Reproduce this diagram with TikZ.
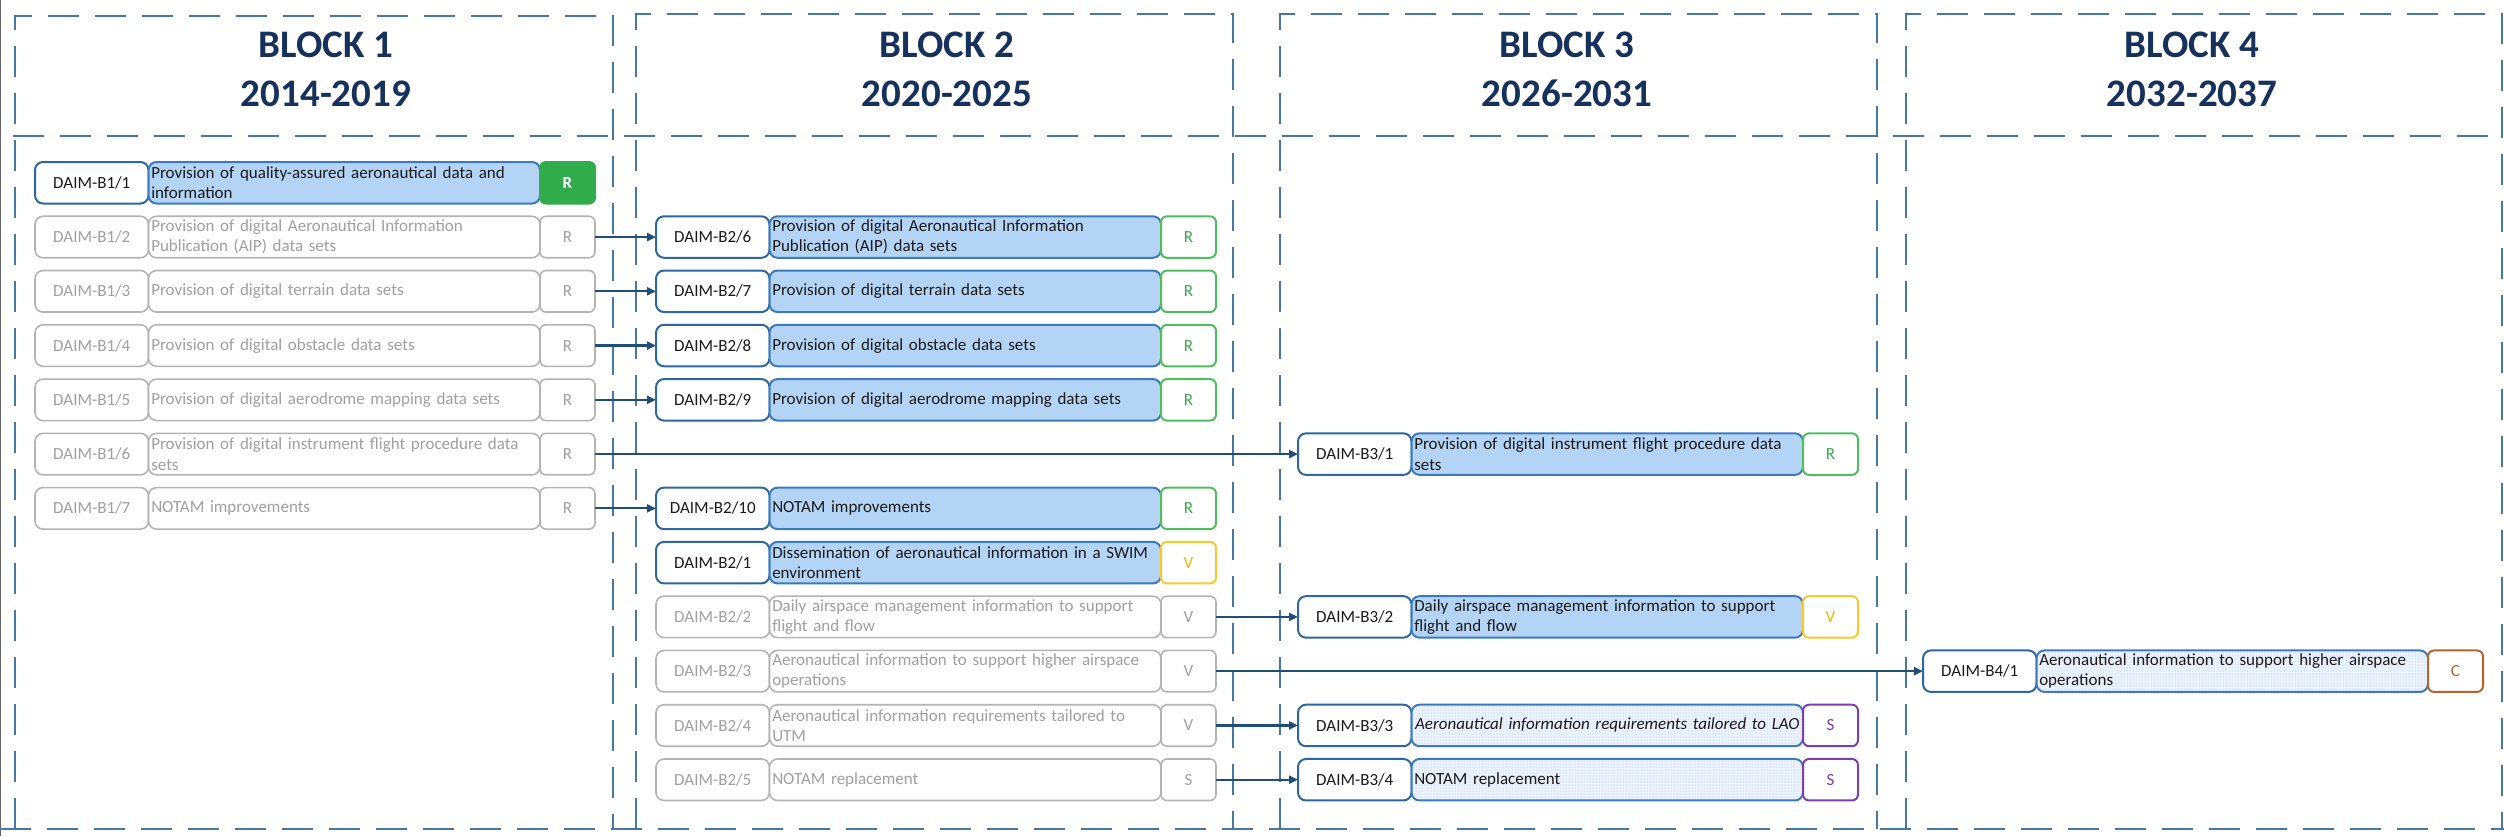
\documentclass[tikz,border=0pt]{standalone}
\usepackage{fontspec}
\setmainfont{Carlito}
\usetikzlibrary{arrows.meta,patterns}
\definecolor{dashblue}{RGB}{70,120,165}
\definecolor{arrblue}{RGB}{31,78,121}
\definecolor{idblue}{RGB}{46,103,160}
\definecolor{descblue}{RGB}{60,122,190}
\definecolor{descfill}{RGB}{180,212,246}
\definecolor{dotbg}{RGB}{236,243,252}
\definecolor{dotfg}{RGB}{150,188,230}
\definecolor{grayb}{RGB}{180,180,180}
\definecolor{grayt}{RGB}{160,160,160}
\definecolor{grn}{RGB}{80,190,95}
\definecolor{grnt}{RGB}{56,170,76}
\definecolor{grnfill}{RGB}{48,172,76}
\definecolor{yel}{RGB}{250,200,45}
\definecolor{yelt}{RGB}{240,185,0}
\definecolor{pur}{RGB}{125,62,170}
\definecolor{brn}{RGB}{180,100,45}
\definecolor{navy}{RGB}{22,50,92}
\definecolor{txt}{RGB}{26,26,26}
\tikzset{
  colline/.style={draw=dashblue, line width=2.4pt, dash pattern=on 31pt off 16pt},
  titletxt/.style={text=navy, font=\fontsize{39}{49}\selectfont\bfseries, inner sep=0pt, anchor=base},
  boxbase/.style={font=\fontsize{17}{20.5}\selectfont, inner sep=0pt, outer sep=0pt,
    minimum height=41.5pt, rounded corners=8pt, line width=2pt},
  idact/.style={boxbase, draw=idblue, fill=white, text=txt, minimum width=113.5pt},
  iddot/.style={idact},
  idina/.style={boxbase, draw=grayb, fill=white, text=grayt, minimum width=113.5pt, line width=1.6pt},
  descact/.style={boxbase, draw=descblue, fill=descfill, text=txt, text width=386pt,
    inner xsep=2.75pt, align=left},
  descdot/.style={boxbase, draw=descblue, text=txt, text width=386pt, inner xsep=2.75pt,
    align=left, preaction={fill=dotbg}, pattern=dots, pattern color=dotfg},
  descina/.style={boxbase, draw=grayb, fill=white, text=grayt, text width=386pt,
    inner xsep=2.75pt, align=left, line width=1.6pt},
  stbase/.style={boxbase, minimum width=55pt, rounded corners=6pt, fill=white},
  stR/.style={stbase, draw=grn, text=grnt},
  stRfill/.style={stbase, draw=grnfill, fill=grnfill, text=white,
    font=\fontsize{17}{20.5}\selectfont\bfseries},
  stV/.style={stbase, draw=yel, text=yelt},
  stS/.style={stbase, draw=pur, text=pur},
  stC/.style={stbase, draw=brn, text=brn},
  stina/.style={stbase, draw=grayb, text=grayt, line width=1.6pt},
  arr/.style={draw=arrblue, line width=2.2pt, -{Triangle[length=9pt,width=8pt]}},
}
% #1 name, #2 left x, #3 row, #4 kind, #5 id, #6 description, #7 status style, #8 status text
\newcommand\daim[8]{%
  \node[id#4, anchor=north west] (#1id) at (#2, {162+54.27*#3}) {#5};
  \node[desc#4, anchor=west] (#1d) at (#1id.east) {#6};
  \node[#7, anchor=west] (#1s) at (#1d.east) {#8};
}
\begin{document}
\begin{tikzpicture}[x=1pt, y=-1pt]
\useasboundingbox (0,0) rectangle (2504,836);
\fill[white] (0,0) rectangle (2504,836);
\draw[draw=gray!80!black, line width=1.2pt] (0.8,0) -- (0.8,836);

% column frames
\draw[colline] (15,829) -- (15,16) -- (613,16) -- (613,829);
\draw[colline] (636,829) -- (636,14) -- (1233,14) -- (1233,829);
\draw[colline] (1280,829) -- (1280,14) -- (1877,14) -- (1877,829);
\draw[colline] (1906,829) -- (1906,14) -- (2502,14) -- (2502,829);
\draw[colline] (13,136) -- (2504,136);
\draw[colline] (0,829) -- (2504,829);

% titles
\node[titletxt] (t1a) at (326,57) {BLOCK 1};
\node[titletxt] (t1b) at (326,106) {2014-2019};
\node[titletxt] (t2a) at (947,57) {BLOCK 2};
\node[titletxt] (t2b) at (947,106) {2020-2025};
\node[titletxt] (t3a) at (1567,57) {BLOCK 3};
\node[titletxt] (t3b) at (1567,106) {2026-2031};
\node[titletxt] (t4a) at (2192,57) {BLOCK 4};
\node[titletxt] (t4b) at (2192,106) {2032-2037};

% Block 1
\daim{bA}{35}{0}{act}{DAIM-B1/1}{Provision of quality-assured aeronautical data and\\information}{stRfill}{R}
\daim{bB}{35}{1}{ina}{DAIM-B1/2}{Provision of digital Aeronautical Information\\Publication (AIP) data sets}{stina}{R}
\daim{bC}{35}{2}{ina}{DAIM-B1/3}{Provision of digital terrain data sets}{stina}{R}
\daim{bD}{35}{3}{ina}{DAIM-B1/4}{Provision of digital obstacle data sets}{stina}{R}
\daim{bE}{35}{4}{ina}{DAIM-B1/5}{Provision of digital aerodrome mapping data sets}{stina}{R}
\daim{bF}{35}{5}{ina}{DAIM-B1/6}{Provision of digital instrument flight procedure data\\sets}{stina}{R}
\daim{bG}{35}{6}{ina}{DAIM-B1/7}{NOTAM improvements}{stina}{R}

% Block 2
\daim{cF}{656}{1}{act}{DAIM-B2/6}{Provision of digital Aeronautical Information\\Publication (AIP) data sets}{stR}{R}
\daim{cG}{656}{2}{act}{DAIM-B2/7}{Provision of digital terrain data sets}{stR}{R}
\daim{cH}{656}{3}{act}{DAIM-B2/8}{Provision of digital obstacle data sets}{stR}{R}
\daim{cI}{656}{4}{act}{DAIM-B2/9}{Provision of digital aerodrome mapping data sets}{stR}{R}
\daim{cJ}{656}{6}{act}{DAIM-B2/10}{NOTAM improvements}{stR}{R}
\daim{cA}{656}{7}{act}{DAIM-B2/1}{Dissemination of aeronautical information in a SWIM\\environment}{stV}{V}
\daim{cB}{656}{8}{ina}{DAIM-B2/2}{Daily airspace management information to support\\flight and flow}{stina}{V}
\daim{cC}{656}{9}{ina}{DAIM-B2/3}{Aeronautical information to support higher airspace\\operations}{stina}{V}
\daim{cD}{656}{10}{ina}{DAIM-B2/4}{Aeronautical information requirements tailored to\\UTM}{stina}{V}
\daim{cE}{656}{11}{ina}{DAIM-B2/5}{NOTAM replacement}{stina}{S}

% Block 3
\daim{dA}{1298}{5}{act}{DAIM-B3/1}{Provision of digital instrument flight procedure data\\sets}{stR}{R}
\daim{dB}{1298}{8}{act}{DAIM-B3/2}{Daily airspace management information to support\\flight and flow}{stV}{V}
\daim{dC}{1298}{10}{dot}{DAIM-B3/3}{\makebox[386pt][c]{\itshape Aeronautical information requirements tailored to LAO}}{stS}{S}
\daim{dD}{1298}{11}{dot}{DAIM-B3/4}{NOTAM replacement}{stS}{S}

% Block 4
\daim{eA}{1923}{9}{dot}{DAIM-B4/1}{Aeronautical information to support higher airspace\\operations}{stC}{C}

% connectors
\draw[arr] (bBs.east) -- (cFid.west);
\draw[arr] (bCs.east) -- (cGid.west);
\draw[arr] (bDs.east) -- (cHid.west);
\draw[arr] (bEs.east) -- (cIid.west);
\draw[arr] (bFs.east) -- (dAid.west);
\draw[arr] (bGs.east) -- (cJid.west);
\draw[arr] (cBs.east) -- (dBid.west);
\draw[arr] (cCs.east) -- (eAid.west);
\draw[arr] (cDs.east) -- (dCid.west);
\draw[arr] (cEs.east) -- (dDid.west);
\end{tikzpicture}
\end{document}
